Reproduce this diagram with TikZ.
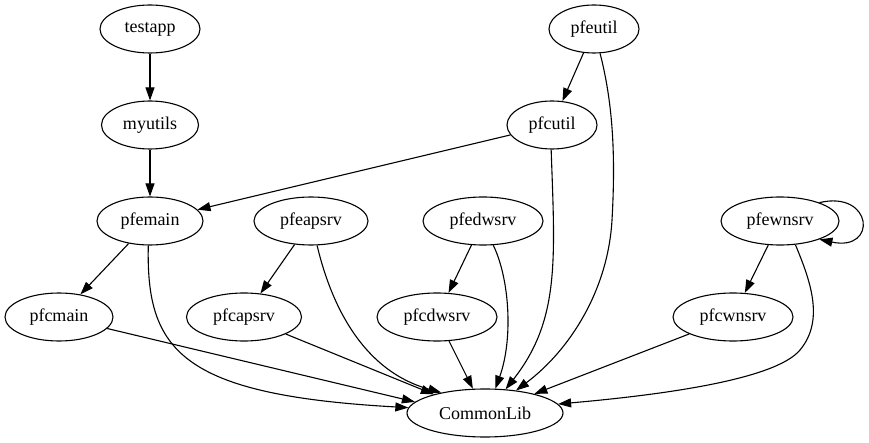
\documentclass[tikz,border=0pt]{standalone}
\usepackage{fontspec}
\setmainfont{Liberation Serif}
\usetikzlibrary{arrows.meta,shapes.geometric}
\begin{document}
\begin{tikzpicture}[x=1pt,y=-1pt,
  gnode/.style={draw, ellipse, line width=1.1pt, inner sep=0pt, minimum height=48pt, font=\fontsize{18}{20}\selectfont},
  edge/.style={line width=1.1pt, -{Triangle[length=13pt,width=9pt]}}]
\useasboundingbox (0,0) rectangle (869,443);
% rank 1
\node[gnode, minimum width=100pt] (testapp) at (150,29) {testapp};
\node[gnode, minimum width=90pt] (pfeutil) at (594,29) {pfeutil};
% rank 2
\node[gnode, minimum width=97pt] (myutils) at (150,125) {myutils};
\node[gnode, minimum width=90pt] (pfcutil) at (552,125) {pfcutil};
% rank 3
\node[gnode, minimum width=106pt] (pfemain) at (150,221) {pfemain};
\node[gnode, minimum width=114pt] (pfeapsrv) at (311,221) {pfeapsrv};
\node[gnode, minimum width=120pt] (pfedwsrv) at (483,221) {pfedwsrv};
\node[gnode, minimum width=118pt] (pfewnsrv) at (780,221) {pfewnsrv};
% rank 4
\node[gnode, minimum width=108pt] (pfcmain) at (59,317) {pfcmain};
\node[gnode, minimum width=115pt] (pfcapsrv) at (244,317) {pfcapsrv};
\node[gnode, minimum width=120pt] (pfcdwsrv) at (437,317) {pfcdwsrv};
\node[gnode, minimum width=120pt] (pfcwnsrv) at (733,317) {pfcwnsrv};
% rank 5
\node[gnode, minimum width=156pt] (CommonLib) at (485,413) {CommonLib};
% straight edges
\draw[edge] (testapp) -- (myutils);
\draw[edge] (myutils) -- (pfemain);
\draw[edge] (pfeutil) -- (pfcutil);
\draw[edge] (pfcutil) -- (pfemain);
\draw[edge] (pfemain) -- (pfcmain);
\draw[edge] (pfeapsrv) -- (pfcapsrv);
\draw[edge] (pfedwsrv) -- (pfcdwsrv);
\draw[edge] (pfewnsrv) -- (pfcwnsrv);
\draw[edge] (pfcmain) -- (CommonLib.171);
\draw[edge] (pfcapsrv) -- (CommonLib.160);
\draw[edge] (pfcdwsrv) -- (CommonLib);
\draw[edge] (pfcwnsrv) -- (CommonLib);
% curved edges
\draw[edge] (pfemain.266) .. controls (146,350) and (180,395) .. (CommonLib.176);
\draw[edge] (pfeapsrv.284) .. controls (330,300) and (360,370) .. (CommonLib.155);
\draw[edge] (pfedwsrv.293) .. controls (510,280) and (513,340) .. (CommonLib.67);
\draw[edge] (pfcutil.268) .. controls (555,260) and (560,320) .. (CommonLib.49);
\draw[edge] (pfeutil.284) .. controls (612,100) and (616,150) .. (612,220) .. controls (608,290) and (570,350) .. (CommonLib.36);
\draw[edge] (pfewnsrv.303) .. controls (810,280) and (825,320) .. (800,350) .. controls (775,380) and (660,395) .. (CommonLib.7);
\draw[edge] (pfewnsrv.25) .. controls (873,190) and (878,252) .. (pfewnsrv.-25);
\end{tikzpicture}
\end{document}
